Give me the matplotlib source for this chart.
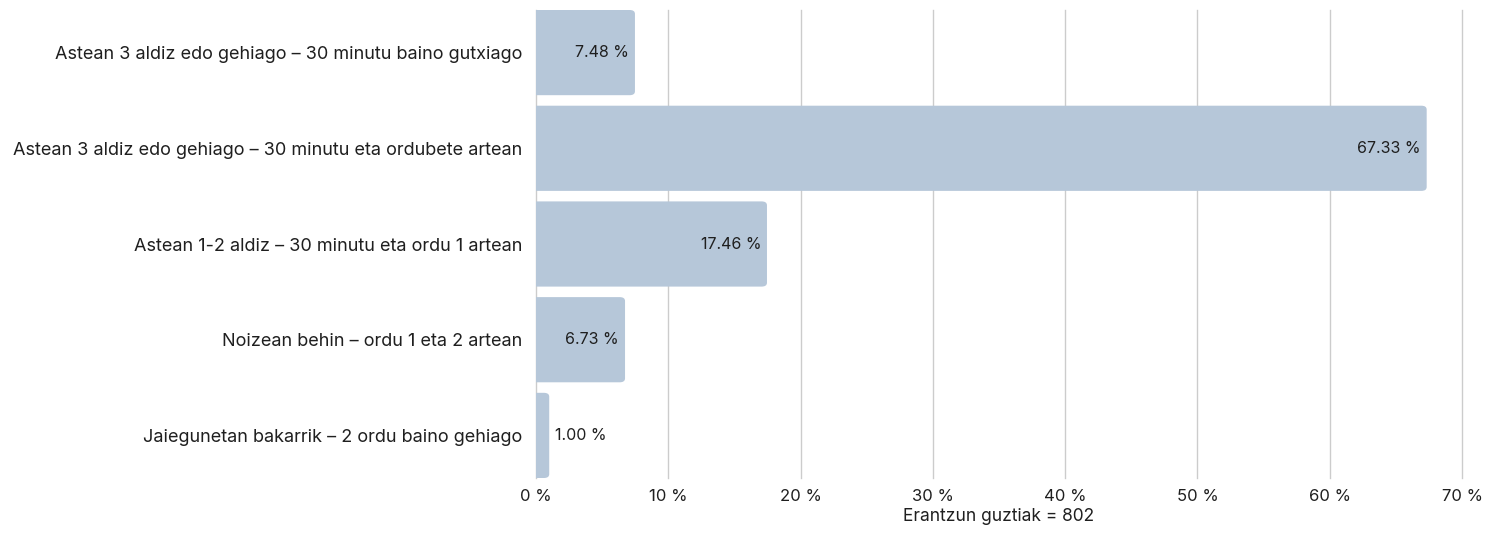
import matplotlib
matplotlib.use("Agg")
from matplotlib import pyplot as plt
from matplotlib.patches import FancyBboxPatch
import numpy as np

plt.rcParams['font.family'] = ['Inter', 'DejaVu Sans']

categories = [
    "Astean 3 aldiz edo gehiago – 30 minutu baino gutxiago",
    "Astean 3 aldiz edo gehiago – 30 minutu eta ordubete artean",
    "Astean 1-2 aldiz – 30 minutu eta ordu 1 artean",
    "Noizean behin – ordu 1 eta 2 artean",
    "Jaiegunetan bakarrik – 2 ordu baino gehiago",
]
values = [7.48, 67.33, 17.46, 6.73, 1.00]
xticks = [0, 10, 20, 30, 40, 50, 60, 70]
xlabel = "Erantzun guztiak = 802"

bar_color = "#b6c7d9"
text_color = "#1f1f1f"

fig = plt.figure(figsize=(14.86, 5.33), dpi=100)
ax = fig.add_axes([536 / 1486, 55 / 533, 926 / 1486, 468 / 533])

y = np.arange(len(values))
h = 0.89
bars = ax.barh(y, values, height=h, color=bar_color)
# swap plain bars for ones with rounded ends
for b in bars:
    b.set_visible(False)
    x0, y0 = b.get_x(), b.get_y()
    w, hh = b.get_width(), b.get_height()
    p = FancyBboxPatch((x0 - 1.0, y0), w + 1.0, hh,
                       boxstyle="round,pad=0,rounding_size=0.4",
                       mutation_aspect=0.1,
                       facecolor=bar_color, edgecolor="none", zorder=2)
    ax.add_patch(p)

for yi, v in zip(y, values):
    lab = f"{v:.2f} %"
    if v > 3:
        ax.text(v - 0.45, yi, lab, ha="right", va="center", fontsize=11.5,
                color=text_color, zorder=3)
    else:
        ax.text(v + 0.45, yi, lab, ha="left", va="center", fontsize=11.5,
                color=text_color, zorder=3)

ax.set_xlim(0, 70)
ax.set_ylim(len(values) - 1 + h / 2, -h / 2)
ax.set_xticks(xticks)
ax.set_xticklabels([f"{t} %" for t in xticks])
ax.set_yticks(y)
ax.set_yticklabels(categories)
ax.tick_params(axis="both", length=0, colors=text_color)
ax.tick_params(axis="y", pad=10, labelsize=13)
ax.tick_params(axis="x", pad=8, labelsize=12)
ax.set_xlabel(xlabel, fontsize=12.5, color=text_color, labelpad=3)
ax.grid(axis="x", color="#cccccc", linewidth=1)
for gl in ax.get_xgridlines():
    gl.set_clip_on(False)
ax.set_axisbelow(True)
for s in ax.spines.values():
    s.set_visible(False)

fig.savefig("out.png", dpi=100)
